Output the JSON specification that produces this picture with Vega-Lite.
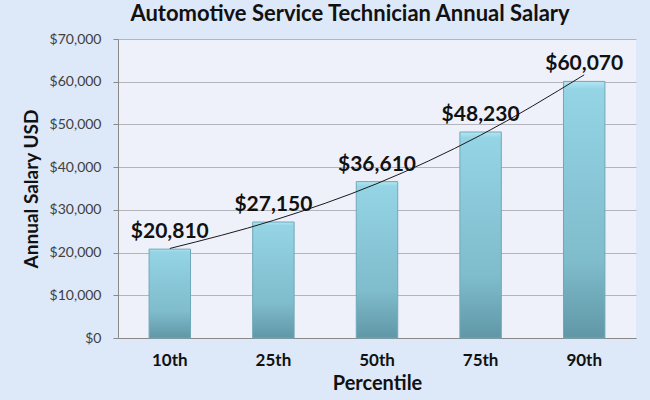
{
  "$schema": "https://vega.github.io/schema/vega-lite/v6.json",
  "autosize": {"type": "none"},
  "width": 518,
  "height": 299,
  "padding": {"left": 118, "top": 39, "right": 14, "bottom": 62},
  "background": "#dde8f8",
  "config": {
    "font": "Lato",
    "view": {"fill": "#eef0fa", "stroke": null}
  },
  "title": {
    "text": "Automotive Service Technician Annual Salary",
    "font": "Lato",
    "fontSize": 22,
    "fontWeight": "bold",
    "color": "#111111",
    "anchor": "middle",
    "dx": -27,
    "offset": 6
  },
  "data": {
    "values": [
      {"percentile": "10th", "salary": 20810, "trend": 20960},
      {"percentile": "25th", "salary": 27150, "trend": 27530},
      {"percentile": "50th", "salary": 36610, "trend": 36150},
      {"percentile": "75th", "salary": 48230, "trend": 47480},
      {"percentile": "90th", "salary": 60070, "trend": 61610}
    ]
  },
  "encoding": {
    "x": {
      "field": "percentile",
      "type": "ordinal",
      "sort": null,
      "scale": {"paddingInner": 0.6, "paddingOuter": 0.3},
      "axis": {
        "title": "Percentile",
        "titleFont": "Lato",
        "titleFontSize": 20,
        "titleFontWeight": "bold",
        "titleColor": "#111111",
        "titlePadding": 5,
        "labelAngle": 0,
        "labelFont": "Lato",
        "labelFontSize": 17,
        "labelFontWeight": "bold",
        "labelColor": "#111111",
        "labelPadding": 14,
        "ticks": false,
        "domainColor": "#8a8a8a",
        "grid": false
      }
    }
  },
  "layer": [
    {
      "mark": {
        "type": "bar",
        "color": {
          "gradient": "linear",
          "x1": 0, "y1": 0, "x2": 0, "y2": 1,
          "stops": [
            {"offset": 0, "color": "#b4e6f2"},
            {"offset": 0.03, "color": "#94d4e5"},
            {"offset": 0.7, "color": "#7fbccc"},
            {"offset": 1, "color": "#6097a6"}
          ]
        },
        "stroke": "#6fa9b9",
        "strokeWidth": 1
      },
      "encoding": {
        "y": {
          "field": "salary",
          "type": "quantitative",
          "scale": {"domain": [0, 70000], "nice": false},
          "axis": {
            "title": "Annual Salary USD",
            "titleFont": "Lato",
            "titleFontSize": 19,
            "titleFontWeight": "bold",
            "titleColor": "#111111",
            "titlePadding": 8,
            "format": "$,.0f",
            "values": [0, 10000, 20000, 30000, 40000, 50000, 60000, 70000],
            "labelFont": "Lato",
            "labelFontSize": 14,
            "labelColor": "#404040",
            "labelPadding": 12,
            "tickSize": 5,
            "tickColor": "#8a8a8a",
            "domainColor": "#8a8a8a",
            "gridColor": "#b4b4bc",
            "gridWidth": 1
          }
        }
      }
    },
    {
      "mark": {"type": "line", "color": "#1a1a1a", "strokeWidth": 1, "interpolate": "monotone"},
      "encoding": {
        "y": {"field": "trend", "type": "quantitative"}
      }
    },
    {
      "mark": {
        "type": "text",
        "font": "Lato",
        "fontSize": 21,
        "fontWeight": "bold",
        "color": "#111111",
        "baseline": "alphabetic",
        "dy": -11
      },
      "encoding": {
        "y": {"field": "salary", "type": "quantitative"},
        "text": {"field": "salary", "type": "quantitative", "format": "$,.0f"}
      }
    }
  ]
}
